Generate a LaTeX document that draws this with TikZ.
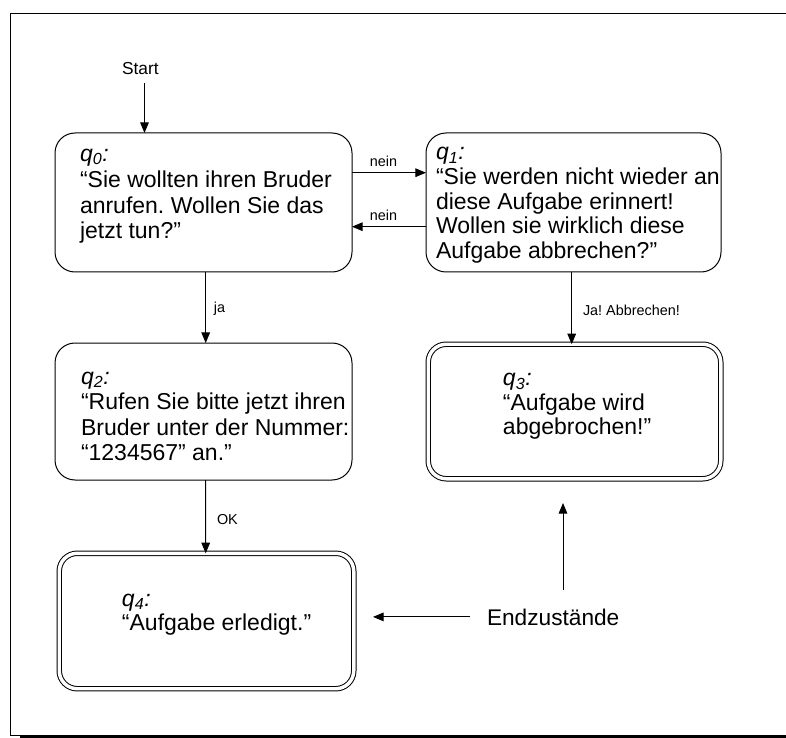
\documentclass[tikz,border=0pt]{standalone}
\usepackage{fontspec}
\setmainfont{Liberation Sans}
\usetikzlibrary{arrows.meta,calc}
\frenchspacing

% state name: italic q with italic index
\newcommand{\qlabel}[1]{\textit{q}\textsubscript{\textit{#1}}\textit{:}}

\begin{document}
\begin{tikzpicture}[x=0.75pt, y=-0.75pt,
  every node/.style={inner sep=0pt, outer sep=0pt},
  statebox/.style={draw, line width=0.75pt, rounded corners=15pt},
  finalbox/.style={draw, line width=0.75pt, double, double distance=2.6pt, rounded corners=13.5pt},
  body/.style={anchor=base west, align=left, font=\fontsize{17.25pt}{19.5pt}\selectfont},
  edgelabel/.style={font=\fontsize{10.8pt}{13pt}\selectfont},
  arr/.style={-{Triangle[length=8pt,width=6.5pt]}, line width=0.75pt},
]
\path[use as bounding box] (0,0) rectangle (786,738);
\clip (0,0) rectangle (786,738);

% page frame with heavy bottom rule
\draw[line width=0.75pt] (800,735) -- (10.3,735) -- (10.3,13.3);
\draw[line width=1pt] (10.3,13.3) -- (800,13.3);
\draw[line width=2.25pt] (20,736.5) -- (800,736.5);

% states
\node[statebox, minimum width=222.75pt, minimum height=104.25pt] (q0) at (203.5,202.5) {};
\node[statebox, minimum width=221.25pt, minimum height=104.25pt] (q1) at (573.5,202.5) {};
\node[statebox, minimum width=222.75pt, minimum height=102.75pt] (q2) at (203.5,411.5) {};
\node[finalbox, minimum width=219.4pt, minimum height=100.9pt] (q3) at (574.5,411.5) {};
\node[finalbox, minimum width=220.9pt, minimum height=101.6pt] (q4) at (206.5,621) {};

% state texts (placed by the baseline of their last line)
\node[body] (t0) at ($(q0.north west)+(25,106)$)
  {\qlabel{0}\\“Sie wollten ihren Bruder\\anrufen. Wollen Sie das\\jetzt tun?”};
\node[body, font=\fontsize{17.25pt}{18.45pt}\selectfont] (t1) at ($(q1.north west)+(10,125.4)$)
  {\qlabel{1}\\“Sie werden nicht wieder an\\diese Aufgabe erinnert!\\Wollen sie wirklich diese\\Aufgabe abbrechen?”};
\node[body, font=\fontsize{17.25pt}{19.1pt}\selectfont] (t2) at ($(q2.north west)+(26,117.5)$)
  {\qlabel{2}\\“Rufen Sie bitte jetzt ihren\\Bruder unter der Nummer:\\“1234567” an.”};
\node[body, font=\fontsize{17.25pt}{18.4pt}\selectfont] (t3) at ($(q3.north west)+(74.75,90.75)$)
  {\qlabel{3}\\“Aufgabe wird\\abgebrochen!”};
\node[body, font=\fontsize{17.25pt}{18pt}\selectfont] (t4) at ($(q4.north west)+(62.75,76.75)$)
  {\qlabel{4}\\“Aufgabe erledigt.”};

% start marker
\node[anchor=base west, font=\fontsize{13pt}{15pt}\selectfont] (start) at (122,75) {Start};
\coordinate (sa) at ($(start.base west)+(22.5,8)$);
\draw[arr] (sa) -- (sa |- q0.north);

% transitions
\draw[arr] ($(q0.east)+(0,-29.8)$) -- ($(q1.west)+(0,-29.8)$)
  node[edgelabel, pos=0.426, above=4.3pt] {nein};
\draw[arr] ($(q1.west)+(0,24.2)$) -- ($(q0.east)+(0,24.2)$)
  node[edgelabel, pos=0.574, above=4.3pt] {nein};
\draw[arr] ($(q0.south)+(2.2,0)$) -- ($(q2.north)+(2.2,0)$)
  node[edgelabel, midway, anchor=base west, xshift=6.2pt, yshift=-4.1pt] {ja};
\draw[arr] ($(q2.south)+(2.2,0)$) -- ($(q4.north)+(-0.8,0)$)
  node[edgelabel, midway, anchor=base west, xshift=8.5pt, yshift=-5.6pt] {OK};
\draw[arr] ($(q1.south)+(-1.8,0)$) -- ($(q3.north)+(-2.8,0)$)
  node[edgelabel, midway, anchor=base west, xshift=8.5pt, yshift=-5.25pt] {Ja! Abbrechen!};

% final states note
\node[anchor=base west, font=\fontsize{17pt}{19pt}\selectfont] (end) at (487,625) {Endzustände};
\coordinate (lt) at (373,616.5);
\coordinate (ut) at (563,503);
\draw[arr] ($(end.west)+(-17,0)$) -- (lt |- end.west);
\draw[arr] ($(ut |- end.north)+(0,-19)$) -- (ut);
\end{tikzpicture}
\end{document}
